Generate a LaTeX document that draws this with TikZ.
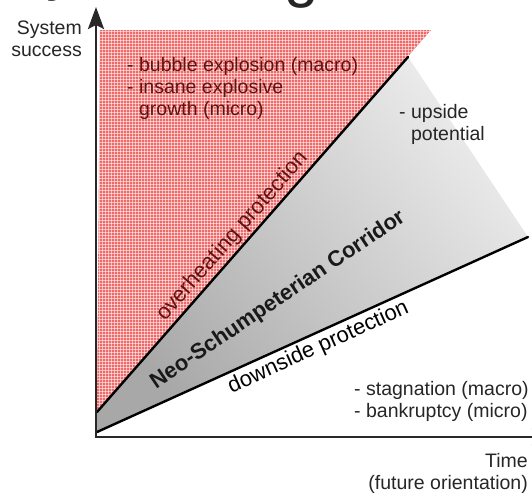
\documentclass[tikz,border=0pt]{standalone}
\usepackage{fontspec}
\setmainfont{Liberation Sans}
\usepackage{tikz}
\usetikzlibrary{positioning, arrows.meta, patterns, calc}
\definecolor{hotred}{RGB}{240,105,105}
\definecolor{hottext}{RGB}{95,20,20}
\definecolor{axisgray}{RGB}{40,40,40}

\begin{document}
\begin{tikzpicture}[
    x=1pt, y=-1pt,
    every node/.style={font=\fontsize{19.5}{22}\selectfont, inner sep=0pt},
    lbl/.style={align=left, text=black!85},
    hotlbl/.style={lbl, text=hottext},
    border/.style={line width=2.4pt, black, line cap=round},
    axis/.style={line width=2.6pt, draw=axisgray, {Stealth[length=22pt, width=16pt, inset=4pt]}-{Stealth[length=22pt, width=16pt, inset=4pt]}},
    tag/.style={sloped, font=\fontsize{22}{24}\selectfont}
]
\useasboundingbox (0,0) rectangle (532,493);
\clip (0,0) rectangle (532,493);

% cut-off heading
\node[anchor=base, font=\fontsize{62}{62}\selectfont, text=black!85] (tity) at (62,-12) {y};
\node[anchor=base, font=\fontsize{62}{62}\selectfont, text=black!85] (titg) at (302,-5) {g};

% corner points
\coordinate (o)  at (96,437);
\coordinate (hl) at (97,412);   % overheating line, lower end
\coordinate (hr) at (408,57);   % overheating line, upper end
\coordinate (dl) at (97,432);   % downside line, left end
\coordinate (dr) at (528,237);  % downside line, right end

% overheating zone
\fill[hotred] (100,30) -- (431,30) -- (hl) -- cycle;
\fill[pattern=grid, pattern color=white, opacity=0.55] (100,30) -- (431,30) -- (hl) -- cycle;

% corridor
\shade[top color=gray!15, bottom color=gray!68, shading angle=-50] (hl) -- (hr) -- (dr) -- (dl) -- cycle;

% boundary lines
\draw[border] (hl) -- (hr) node[tag, pos=0.47, above=2pt, text=hottext] (heat) {overheating protection};
\draw[border] (dl) -- (dr) node[tag, pos=0.5, below=3pt] (down) {downside protection};

% corridor label
\node[font=\bfseries\fontsize{22}{24}\selectfont, rotate=34, text=black!90] (corr) at (278,300) {Neo-Schumpeterian Corridor};

% axes
\draw[axis] (96,7) -- (o) -- (554,437);

% texts
\node[lbl, align=right, anchor=north east] (ylab) at (82,21) {System\\success};
\node[hotlbl, anchor=north west] (hot) at (127,57) {- bubble explosion (macro)\\- insane explosive\\\phantom{- }growth (micro)};
\node[lbl, anchor=north west] (up) at (399,104) {- upside\\\phantom{- }potential};
\node[lbl, anchor=north west] (low) at (354,381) {- stagnation (macro)\\- bankruptcy (micro)};
\node[lbl, align=right, anchor=north east] (time) at (528,453) {Time\\(future orientation)};
\end{tikzpicture}
\end{document}
